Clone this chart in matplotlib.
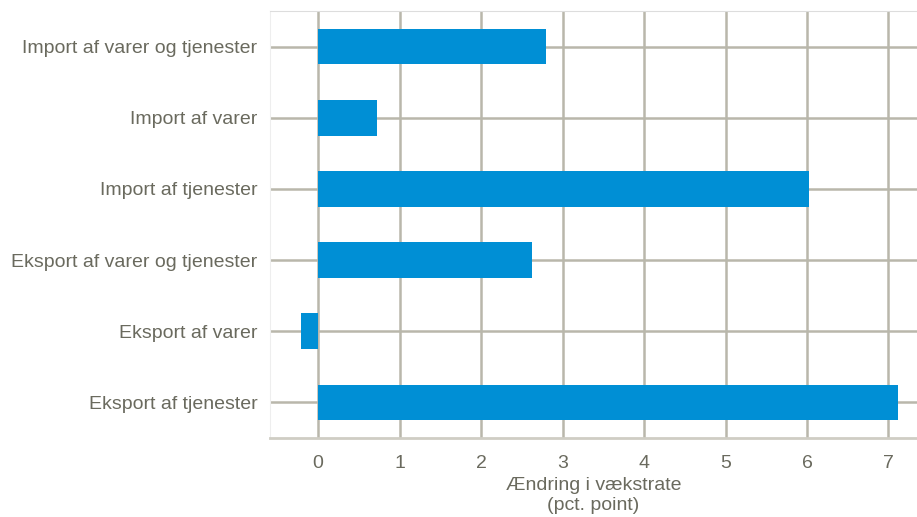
import matplotlib
matplotlib.use("Agg")
import matplotlib.pyplot as plt

# data
labels = ["Import af varer og tjenester", "Import af varer", "Import af tjenester",
          "Eksport af varer og tjenester", "Eksport af varer", "Eksport af tjenester"]
values = [2.80, 0.72, 6.02, 2.63, -0.21, 7.12]
xticks = [0, 1, 2, 3, 4, 5, 6, 7]

plt.rcParams['font.family'] = ['Liberation Sans', 'DejaVu Sans']
txt = '#6a6a5e'
grid = '#b9b7ab'
fs = 14

fig = plt.figure(figsize=(9.17, 5.17), dpi=100)
ax = fig.add_axes([270/917, 79/517, 647/917, 427/517])

ypos = list(range(len(labels)))[::-1]
ax.barh(ypos, values, height=0.5, color='#008fd5', zorder=3)

ax.set_xlim(-0.59, 7.35)
ax.set_ylim(-0.5, 5.5)
ax.set_xticks(xticks)
ax.set_yticks(ypos)
ax.set_yticklabels(labels)
ax.grid(True, color=grid, linewidth=1.8, zorder=0)
ax.tick_params(length=0, labelsize=fs, colors=txt)
ax.tick_params(axis='y', pad=9)
ax.tick_params(axis='x', pad=12)

ax.spines['right'].set_visible(False)
ax.spines['top'].set_color('#dddddd')
ax.spines['left'].set_color('#eeeeee')
ax.spines['bottom'].set_color('#cfcdc4')
ax.spines['bottom'].set_linewidth(2)

ax.set_xlabel("Ændring i vækstrate\n(pct. point)", fontsize=fs, color=txt,
              labelpad=4, linespacing=1.25)

fig.savefig("out.png", dpi=100)
